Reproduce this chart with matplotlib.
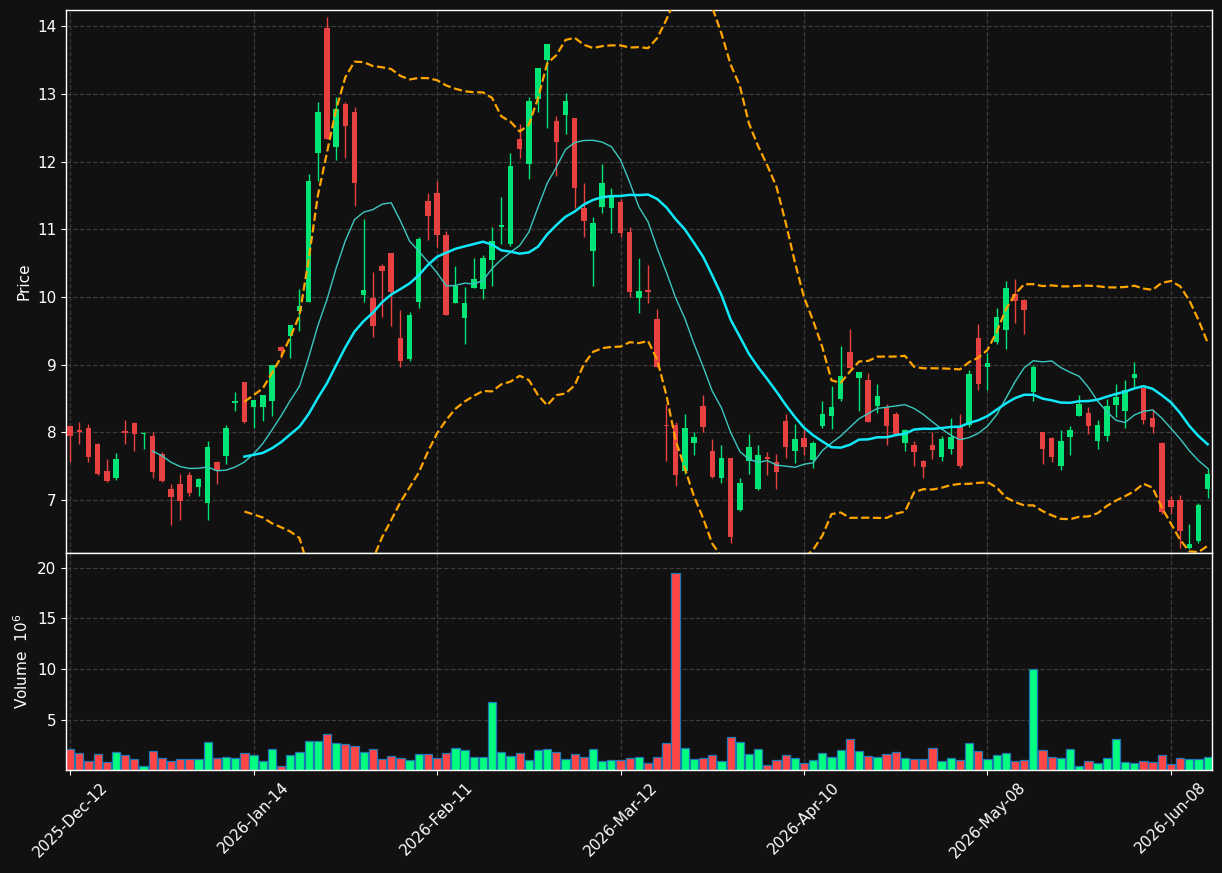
import matplotlib
matplotlib.use("Agg")
import matplotlib.pyplot as plt
import numpy as np
import pandas as pd

# ── data ──────────────────────────────────────────────────────────────────

opens = [8.09, 8.03, 8.06, 7.83, 7.43, 7.33, 8.01, 8.14, 7.97, 7.95,
         7.68, 7.17, 7.24, 7.37, 7.20, 6.96, 7.57, 7.65, 8.44, 8.74,
         8.37, 8.37, 8.46, 9.26, 9.43, 9.80, 9.93, 12.13, 13.98, 12.22,
         12.85, 12.73, 10.03, 9.99, 10.46, 10.65, 9.40, 9.08, 9.92, 11.42,
         11.54, 10.91, 9.91, 9.69, 10.14, 10.12, 10.54, 11.04, 10.79, 12.34,
         11.97, 12.93, 13.50, 12.60, 12.69, 12.64, 11.31, 10.68, 11.33, 11.32,
         11.41, 10.96, 9.99, 10.10, 9.68, 8.11, 8.11, 7.43, 7.84, 8.39,
         7.73, 7.32, 7.62, 6.85, 7.58, 7.16, 7.63, 7.57, 8.17, 7.72,
         7.92, 7.60, 8.09, 8.25, 8.49, 9.19, 8.81, 8.78, 8.39, 8.38,
         8.27, 7.84, 7.82, 7.58, 7.81, 7.64, 7.76, 8.08, 8.11, 9.40,
         8.96, 9.33, 9.52, 10.05, 9.96, 8.60, 8.00, 7.92, 7.51, 7.94,
         8.24, 8.28, 7.87, 7.95, 8.40, 8.32, 8.80, 8.66, 8.22, 7.85,
         7.00, 7.00, 6.29, 6.39, 7.16]
highs = [8.10, 8.16, 8.12, 7.84, 7.61, 7.69, 8.19, 8.16, 8.00, 8.00,
         7.71, 7.24, 7.38, 7.41, 7.33, 7.88, 7.58, 8.11, 8.60, 8.75,
         8.48, 8.56, 9.00, 9.27, 9.59, 10.12, 11.82, 12.88, 14.13, 12.95,
         12.88, 12.81, 11.15, 10.37, 10.49, 10.65, 9.81, 9.78, 10.89, 11.53,
         11.71, 10.98, 10.46, 10.15, 10.58, 10.62, 11.04, 11.48, 12.13, 12.55,
         12.95, 13.39, 13.74, 12.67, 13.01, 12.64, 11.69, 11.18, 11.97, 11.61,
         11.45, 11.04, 10.57, 10.47, 9.82, 8.42, 8.16, 8.27, 8.01, 8.55,
         7.91, 7.82, 7.62, 7.32, 7.97, 7.82, 7.71, 7.68, 8.27, 8.12,
         8.05, 7.87, 8.46, 8.68, 9.27, 9.53, 8.89, 8.88, 8.72, 8.42,
         8.30, 8.05, 7.87, 7.60, 8.00, 7.95, 8.22, 8.27, 8.92, 9.60,
         9.18, 9.84, 10.24, 10.27, 9.97, 9.00, 8.00, 7.94, 8.04, 8.09,
         8.56, 8.38, 8.19, 8.49, 8.72, 8.78, 9.04, 8.66, 8.34, 7.86,
         7.06, 7.07, 6.65, 6.96, 7.48]
lows = [7.56, 7.83, 7.57, 7.37, 7.27, 7.30, 7.83, 7.72, 7.75, 7.32,
        7.27, 6.64, 6.71, 7.06, 7.06, 6.71, 7.24, 7.54, 8.31, 8.14,
        8.06, 8.17, 8.24, 9.10, 9.10, 9.50, 9.92, 11.72, 12.33, 12.03,
        12.05, 11.34, 9.92, 9.41, 9.70, 9.57, 8.96, 9.05, 9.84, 10.84,
        10.74, 9.74, 9.91, 9.31, 10.14, 9.97, 10.17, 10.79, 10.75, 12.05,
        11.75, 12.73, 12.50, 11.79, 12.41, 11.31, 10.89, 10.16, 11.24, 10.95,
        10.88, 10.00, 9.76, 9.91, 8.96, 7.58, 7.21, 7.38, 7.66, 8.01,
        7.33, 7.25, 6.36, 6.84, 7.38, 7.15, 7.37, 7.16, 7.62, 7.55,
        7.66, 7.48, 8.07, 8.05, 8.47, 8.95, 8.32, 8.16, 8.29, 7.82,
        7.97, 7.72, 7.50, 7.33, 7.61, 7.58, 7.68, 7.48, 8.08, 8.63,
        8.63, 9.31, 9.23, 9.62, 9.46, 8.47, 7.54, 7.57, 7.45, 7.66,
        8.24, 7.98, 7.76, 7.88, 8.23, 8.06, 8.67, 8.13, 7.99, 6.79,
        6.80, 6.29, 6.28, 6.36, 7.03]
closes = [7.95, 8.00, 7.63, 7.39, 7.28, 7.61, 7.99, 7.98, 7.98, 7.42,
          7.28, 7.04, 6.99, 7.11, 7.31, 7.79, 7.44, 8.07, 8.45, 8.15,
          8.48, 8.56, 9.00, 9.20, 9.59, 9.87, 11.71, 12.73, 12.34, 12.78,
          12.53, 11.69, 10.10, 9.57, 10.39, 10.08, 9.05, 9.74, 10.86, 11.20,
          10.91, 9.74, 10.17, 9.91, 10.27, 10.58, 10.83, 11.06, 11.94, 12.19,
          12.89, 13.39, 13.73, 12.29, 12.89, 11.61, 11.13, 11.09, 11.68, 11.50,
          10.95, 10.08, 10.09, 10.08, 8.96, 8.09, 7.37, 8.07, 7.94, 8.08,
          7.34, 7.62, 6.46, 7.26, 7.79, 7.67, 7.61, 7.41, 7.78, 7.91,
          7.79, 7.84, 8.27, 8.37, 8.83, 8.95, 8.89, 8.16, 8.54, 8.09,
          7.97, 8.03, 7.71, 7.49, 7.74, 7.91, 7.94, 7.50, 8.87, 8.71,
          9.03, 9.71, 10.13, 9.94, 9.81, 8.96, 7.76, 7.64, 7.88, 8.03,
          8.42, 8.09, 8.11, 8.39, 8.52, 8.63, 8.86, 8.19, 8.08, 6.83,
          6.90, 6.55, 6.35, 6.93, 7.38]
# volume in millions
volumes = [2.10, 1.71, 0.92, 1.61, 0.82, 1.81, 1.51, 1.12, 0.43, 1.91,
           1.22, 0.92, 1.12, 1.12, 1.12, 2.80, 1.22, 1.32, 1.22, 1.71,
           1.51, 0.92, 2.10, 0.43, 1.51, 1.81, 2.90, 2.90, 3.59, 2.70,
           2.60, 2.40, 1.81, 2.10, 1.12, 1.41, 1.22, 1.02, 1.61, 1.61,
           1.22, 1.71, 2.20, 2.00, 1.32, 1.32, 6.75, 1.81, 1.41, 1.71,
           1.02, 2.00, 2.10, 1.81, 1.12, 1.61, 1.32, 2.10, 0.92, 1.02,
           1.02, 1.22, 1.32, 0.72, 1.32, 2.70, 19.50, 2.20, 1.12, 1.22,
           1.51, 0.92, 3.29, 2.80, 1.61, 2.10, 0.52, 1.02, 1.51, 1.22,
           0.72, 1.02, 1.71, 1.32, 2.00, 3.09, 1.91, 1.41, 1.32, 1.61,
           1.81, 1.22, 1.12, 1.12, 2.20, 0.92, 1.22, 1.02, 2.70, 1.91,
           1.12, 1.51, 1.71, 0.92, 1.02, 10.02, 2.00, 1.32, 1.22, 2.10,
           0.43, 0.92, 0.72, 1.22, 3.09, 0.82, 0.72, 0.92, 0.82, 1.51,
           0.62, 1.22, 1.12, 1.12, 1.32]
tick_labels = ["2025-Dec-12", "2026-Jan-14", "2026-Feb-11", "2026-Mar-12",
               "2026-Apr-10", "2026-May-08", "2026-Jun-08"]

# ── style ──────────────────────────────────────────────────────────────────

BG = "#111111"
UP, DOWN = "#00e676", "#e84142"
VUP, VDOWN = "#00ff80", "#ff4545"

plt.rcParams.update({
    "figure.facecolor": BG,
    "axes.facecolor":   BG,
    "axes.edgecolor":   "white",
    "axes.labelcolor":  "white",
    "xtick.color":      "white",
    "ytick.color":      "white",
    "text.color":       "white",
    "font.size":        11,
})

df = pd.DataFrame({"Open": opens, "High": highs, "Low": lows,
                   "Close": closes, "Volume": volumes})
x = np.arange(len(df))
up = df["Close"] >= df["Open"]

mav10 = df["Close"].rolling(10).mean()
mav20 = df["Close"].rolling(20).mean()
std20 = df["Close"].rolling(20).std(ddof=0)

fig = plt.figure(figsize=(12.22, 8.73), dpi=100)
ax = fig.add_axes([0.054, 0.3666, 0.9378, 0.622])
axv = fig.add_axes([0.054, 0.118, 0.9378, 0.2486], sharex=ax)

# candles
ccol = np.where(up, UP, DOWN)
ax.vlines(x, df["Low"], df["High"], colors=ccol, linewidth=1, zorder=3)
body_lo = np.minimum(df["Open"], df["Close"])
body_h = np.maximum((df["Close"] - df["Open"]).abs(), 0.025)
ax.bar(x, body_h, bottom=body_lo, width=0.6, color=ccol, zorder=4)

# moving averages and bollinger bands
ax.plot(x, mav10, color="#3cc8c0", linewidth=1.0, zorder=5)
ax.plot(x, mav20, color="#10e8f8", linewidth=1.8, zorder=5)
ax.plot(x, mav20 + 2 * std20, color="#ffa500", linewidth=1.6, linestyle="--", zorder=5)
ax.plot(x, mav20 - 2 * std20, color="#ffa500", linewidth=1.6, linestyle="--", zorder=5)

ax.set_ylim(6.22, 14.24)
ax.set_xlim(-0.45, len(df) - 0.53)
ax.set_yticks(range(7, 15))
ax.set_ylabel("Price")
ax.grid(True, color="#3a3a3a", linestyle="--", linewidth=0.9)
ax.set_axisbelow(True)
ax.tick_params(axis="x", labelbottom=False, length=0)

# volume
vcol = np.where(up, VUP, VDOWN)
axv.bar(x, df["Volume"], width=0.9, color=vcol, edgecolor="#1f77b4", linewidth=0.9)
axv.set_ylim(0.06, df["Volume"].max() * 1.1)
axv.set_yticks([5, 10, 15, 20])
axv.set_ylabel("Volume  $10^{6}$")
axv.grid(True, color="#3a3a3a", linestyle="--", linewidth=0.9)
axv.set_axisbelow(True)

ticks = np.arange(0, len(df), 20)
axv.set_xticks(ticks)
axv.set_xticklabels(tick_labels, rotation=45, ha="center")

for a in (ax, axv):
    for s in a.spines.values():
        s.set_color("white")
        s.set_linewidth(1.0)

fig.savefig("out.png", dpi=100, facecolor=BG)
